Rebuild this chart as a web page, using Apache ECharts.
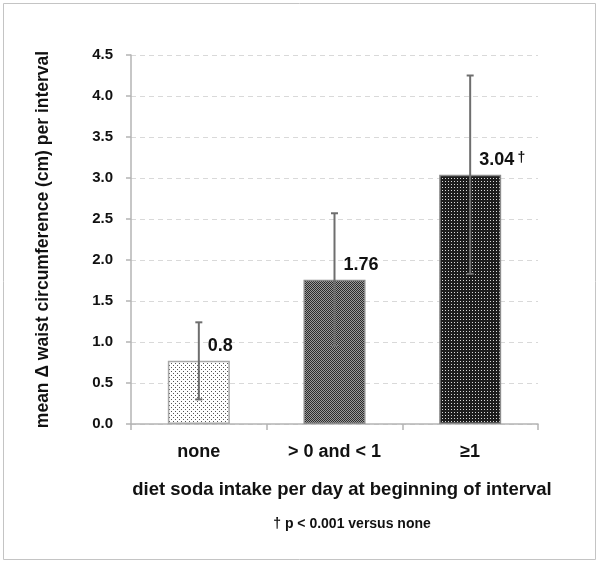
<!DOCTYPE html>
<html>
<head>
<meta charset="utf-8">
<script src="https://cdn.jsdelivr.net/npm/echarts@6/dist/echarts.min.js"></script>
<style>
html,body{margin:0;padding:0;background:#fff;}
#chart{width:600px;height:563px;}
</style>
</head>
<body>
<div id="chart"></div>
<script>
// ---- data ----
var categories = ['none', '> 0 and < 1', '\u22651'];
var meanValues = [0.77, 1.76, 3.04];
var valueLabels = ['0.8', '1.76', '3.04'];
var significanceMarks = ['', '', '\u2020'];
var errorPlusMinus = [0.47, 0.81, 1.21];
var yTicks = [0, 0.5, 1.0, 1.5, 2.0, 2.5, 3.0, 3.5, 4.0, 4.5];
var yAxisTitle = 'mean \u0394 waist circumference (cm) per interval';
var xAxisTitle = 'diet soda intake per day at beginning of interval';
var footnote = '\u2020 p < 0.001 versus none';

var FONT = '"Liberation Sans", Arial, sans-serif';

function makePattern(size, bg, dots) {
  var c = document.createElement('canvas');
  c.width = size; c.height = size;
  var ctx = c.getContext('2d');
  ctx.fillStyle = bg; ctx.fillRect(0, 0, size, size);
  dots.forEach(function (d) { ctx.fillStyle = d[2]; ctx.fillRect(d[0], d[1], 1, 1); });
  return { image: c, repeat: 'repeat' };
}
var patterns = [
  makePattern(4, '#ffffff', [[1, 1, '#555'], [3, 3, '#555']]),
  makePattern(2, '#9a9a9a', [[0, 0, '#2b2b2b'], [1, 1, '#2b2b2b']]),
  makePattern(3, '#1c1c1c', [[1, 1, '#d8d8d8']])
];
var borderColors = ['#a8a8a8', '#8c8c8c', '#8c8c8c'];

var barData = meanValues.map(function (v, i) {
  return { value: v, itemStyle: { color: patterns[i], borderColor: borderColors[i], borderWidth: 1.5 } };
});
var errData = meanValues.map(function (v, i) {
  return [i, v - errorPlusMinus[i], v + errorPlusMinus[i]];
});

var chart = echarts.init(document.getElementById('chart'), null, { renderer: 'canvas' });
chart.setOption({
  animation: false,
  backgroundColor: '#fff',
  grid: { left: 131, right: 62, top: 55, bottom: 139 },
  xAxis: {
    type: 'category',
    data: categories,
    axisLine: { lineStyle: { color: '#b4b4b4', width: 1.5 } },
    axisTick: { show: true, alignWithLabel: false, length: 6, lineStyle: { color: '#b4b4b4', width: 1.5 } },
    axisLabel: { color: '#111', fontFamily: FONT, fontWeight: 'bold', fontSize: 18, margin: 19 }
  },
  yAxis: {
    type: 'value',
    min: 0, max: 4.5, interval: 0.5,
    name: yAxisTitle,
    nameLocation: 'middle',
    nameRotate: 90,
    nameGap: 79,
    nameTextStyle: { color: '#111', fontFamily: FONT, fontWeight: 'bold', fontSize: 17.5 },
    axisLine: { show: true, lineStyle: { color: '#b4b4b4', width: 1.5 } },
    axisTick: { show: true, length: 5, lineStyle: { color: '#b4b4b4', width: 1.5 } },
    axisLabel: {
      color: '#111', fontFamily: FONT, fontWeight: 'bold', fontSize: 15, margin: 18,
      formatter: function (v) {
        for (var i = 0; i < yTicks.length; i++) { if (Math.abs(yTicks[i] - v) < 1e-9) return yTicks[i].toFixed(1); }
        return '';
      }
    },
    splitLine: { show: true, lineStyle: { color: '#d9d9d9', type: [5, 4], width: 1 } }
  },
  series: [
    {
      type: 'bar',
      data: barData,
      barWidth: 62,
      label: {
        show: true,
        position: ['50%', -15],
        offset: [9, 0],
        align: 'left',
        verticalAlign: 'middle',
        formatter: function (p) {
          var m = significanceMarks[p.dataIndex];
          return '{v|' + valueLabels[p.dataIndex] + '}' + (m ? ' {m|' + m + '}' : '');
        },
        rich: {
          v: { color: '#111', fontFamily: FONT, fontWeight: 'bold', fontSize: 18 },
          m: { color: '#111', fontFamily: FONT, fontWeight: 'bold', fontSize: 14, padding: [0, 0, 4, 0] }
        }
      }
    },
    {
      type: 'custom',
      data: errData,
      z: 10,
      renderItem: function (params, api) {
        var x = api.value(0);
        var lo = api.coord([x, api.value(1)]);
        var hi = api.coord([x, api.value(2)]);
        var style = { stroke: '#6e6e6e', lineWidth: 2 };
        return {
          type: 'group',
          children: [
            { type: 'line', shape: { x1: hi[0], y1: hi[1], x2: lo[0], y2: lo[1] }, style: style },
            { type: 'line', shape: { x1: hi[0] - 3.5, y1: hi[1], x2: hi[0] + 3.5, y2: hi[1] }, style: style },
            { type: 'line', shape: { x1: lo[0] - 3.5, y1: lo[1], x2: lo[0] + 3.5, y2: lo[1] }, style: style }
          ]
        };
      }
    }
  ],
  graphic: [
    { type: 'rect', shape: { x: 3.5, y: 3.5, width: 592, height: 556 }, style: { fill: 'none', stroke: '#c4c4c4', lineWidth: 1 }, silent: true },
    { type: 'text', x: 342, y: 490, style: { text: xAxisTitle, fill: '#111', font: 'bold 18.5px ' + FONT, textAlign: 'center', textVerticalAlign: 'middle' } },
    { type: 'text', x: 352, y: 524, style: { text: footnote, fill: '#111', font: 'bold 14px ' + FONT, textAlign: 'center', textVerticalAlign: 'middle' } }
  ]
});
</script>
</body>
</html>
